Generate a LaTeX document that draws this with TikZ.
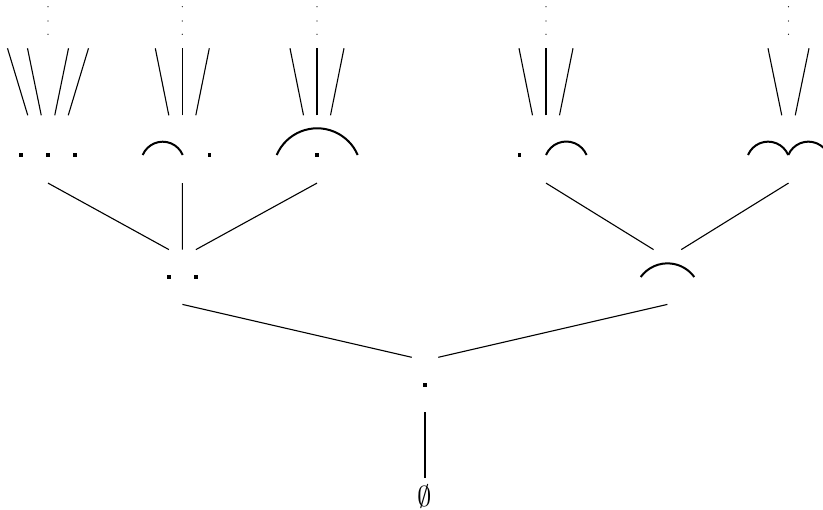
\documentclass[tikz,border=0pt]{standalone}
\tikzstyle{vertex} = [inner sep=0pt, minimum width=0pt, minimum height=27pt]
\tikzstyle{topvertex} = [vertex, minimum height=33.5pt]
\tikzstyle{branch} = [line width=0.55pt]
\tikzstyle{hump} = [line width=1pt]
\tikzset{pics/bead/.style={code={\fill (-1.8,-1.8) rectangle (1.8,1.8);}}}

\begin{document}
\begin{tikzpicture}[x=0.5pt, y=0.5pt]
    \useasboundingbox (0,0) rectangle (823,509);

    % tree vertices
    \node (root) [inner sep=3.2pt, font=\Large] at (425,12.3) {$\emptyset$};
    \node (v0) [vertex] at (425,124.3) {};
    \node (l1a) [vertex] at (182.4,232) {};
    \node (l1b) [vertex] at (667.4,232) {};
    \node (l2a) [topvertex] at (48,359.8) {};
    \node (l2b) [topvertex] at (182.3,359.8) {};
    \node (l2c) [topvertex] at (317,359.8) {};
    \node (l2d) [topvertex] at (546,359.8) {};
    \node (l2e) [topvertex] at (788.5,359.8) {};
    \foreach \v/\x in {l2a/48, l2b/182.3, l2c/317, l2d/546, l2e/788.5}
        \coordinate (\v-up) at (\x,460.7);

    % arc diagrams
    \foreach \x/\y in {20.7/354, 48/354, 75/354, 209.3/354, 317/354, 519.3/354, 169/232, 196/232, 425/124.3}
        \pic at (\x,\y) {bead};
    \draw [hump] (142.7,354) arc[start angle=157.2, end angle=22.8, radius=21.7];
    \draw [hump] (276.7,354) arc[start angle=156.8, end angle=23.2, radius=44.06];
    \draw [hump] (546,354) arc[start angle=157.2, end angle=22.8, radius=22];
    \draw [hump] (748,354) arc[start angle=157.2, end angle=22.8, radius=21.8];
    \draw [hump] (788.3,354) arc[start angle=157.2, end angle=22.8, radius=21.8];
    \draw [hump] (640.7,232) arc[start angle=144, end angle=36, radius=33.1];

    % branches
    \draw [branch] (v0.south) -- (root.north);
    \draw [branch] (l1a.south) -- ([shift={(-13.3,0)}]v0.north);
    \draw [branch] (l1b.south) -- ([shift={(13.3,0)}]v0.north);
    \draw [branch] (l2a.south) -- ([shift={(-13.5,0)}]l1a.north);
    \draw [branch] (l2b.south) -- (l1a.north);
    \draw [branch] (l2c.south) -- ([shift={(13.5,0)}]l1a.north);
    \draw [branch] (l2d.south) -- ([shift={(-13.85,0)}]l1b.north);
    \draw [branch] (l2e.south) -- ([shift={(13.85,0)}]l1b.north);
    \foreach \v/\a/\b in {l2a/-20.25/-40.5, l2a/-6.75/-20.5, l2a/6.75/20.5, l2a/20.25/40.5,
                          l2b/-13.5/-27, l2b/0/0, l2b/13.5/27,
                          l2c/-13.5/-27, l2c/0/0, l2c/13.5/27,
                          l2d/-13.5/-27, l2d/0/0, l2d/13.5/27,
                          l2e/-6.75/-20.5, l2e/6.75/20.5}
        \draw [branch] ([shift={(\a,0)}]\v.north) -- ([shift={(\b,0)}]\v-up);

    % more levels above
    \foreach \v in {l2a, l2b, l2c, l2d, l2e}
        \foreach \dy in {14, 27.3, 41.6}
            \fill ([shift={(0,\dy)}]\v-up) circle[radius=0.6];
\end{tikzpicture}
\end{document}
